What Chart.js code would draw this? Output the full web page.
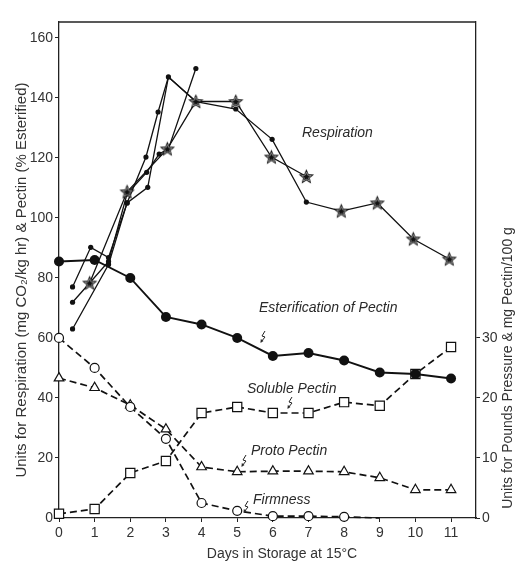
<!DOCTYPE html>
<html>
<head>
<meta charset="utf-8">
<script src="https://cdn.jsdelivr.net/npm/chart.js@4/dist/chart.umd.min.js"></script>
<style>
  html, body { margin: 0; padding: 0; background: #fff; }
  #wrap { width: 519px; height: 567px; }
</style>
</head>
<body>
<div id="wrap"><canvas id="grafico" width="519" height="567"></canvas></div>
<script>
// dias de armazenamento (eixo x)
const dias = [0, 1, 2, 3, 4, 5, 6, 7, 8, 9, 10, 11];
const diasTicks = [0, 1, 2, 3, 4, 5, 6, 7, 8, 9, 10, 11];
const ticksEsquerda = [0, 20, 40, 60, 80, 100, 120, 140, 160];
const ticksDireita = [0, 10, 20, 30];

// eixo esquerdo: esterificacao (% esterificado)
const esterificacao = [85.5, 86, 80, 67, 64.5, 60, 54, 55, 52.5, 48.5, 48, 46.5];

// eixo direito: firmeza, proto pectina e pectina soluvel
const firmeza = [30, 25, 18.5, 13.2, 2.5, 1.2, 0.3, 0.3, 0.2, 0, null, null];
const protoPectina = [23.3, 21.7, 18.8, 14.8, 8.5, 7.7, 7.8, 7.8, 7.7, 6.7, 4.7, 4.7];
const pectinaSoluvel = [0.7, 1.5, 7.5, 9.5, 17.5, 18.5, 17.5, 17.5, 19.3, 18.7, 24, 28.5];

// respiracao - curva com estrelas (inicio)
const respEstrelaDias = [0.86, 1.91, 3.04, 3.84, 4.96, 5.96, 6.94];
const respEstrelaValores = [78.3, 108.7, 123, 138.8, 138.8, 120.3, 113.8];

// respiracao - curva final (pontos e depois estrelas)
const respFinalDias = [3.84, 4.96, 5.98, 6.94, 7.92, 8.93, 9.94, 10.95];
const respFinalValores = [138.8, 136.3, 126.2, 105.3, 102.3, 105, 93, 86.3];

// respiracao - repeticoes com pontos pequenos
const resp1Dias = [0.38, 0.89, 1.39, 1.91, 2.44, 2.78, 3.07, 3.84];
const resp1Valores = [77, 90.2, 86.8, 105, 120.3, 135.3, 147, 138.8];
const resp2Dias = [0.38, 0.86, 1.39, 1.91, 2.46, 2.81, 3.07, 3.84];
const resp2Valores = [71.9, 78.3, 85.5, 108, 115.2, 121.3, 123, 149.8];
const resp3Dias = [0.38, 1.39, 1.91, 2.49, 3.07, 3.84];
const resp3Valores = [63, 84.5, 105, 110.2, 147, 138.8];

//-----------------------------------------------------------------------------------------------
// monta pares {x, y}
function pares(xs, ys) {
    return xs.map((x, i) => ({ x: x, y: ys[i] }));
}

// estrela preenchida usada como marcador
const estrela = document.createElement('canvas');
estrela.width = 17;
estrela.height = 17;
(function () {
    const c = estrela.getContext('2d');
    function caminho(rOut, rIn) {
        c.beginPath();
        for (let i = 0; i < 10; i++) {
            const r = i % 2 === 0 ? rOut : rIn;
            const a = -Math.PI / 2 + i * Math.PI / 5;
            const px = 8.5 + r * Math.cos(a);
            const py = 9 + r * Math.sin(a);
            if (i === 0) c.moveTo(px, py); else c.lineTo(px, py);
        }
        c.closePath();
    }
    caminho(8, 3.6);
    c.fillStyle = '#111';
    c.fill();
    caminho(5, 2.3);
    c.strokeStyle = '#aaa';
    c.lineWidth = 0.8;
    c.stroke();
})();

const fonte = '"Liberation Sans", Arial, sans-serif';
const fonteEstreita = '"Liberation Sans Narrow", "Liberation Sans", Arial, sans-serif';
const preto = '#111';

function linhaPontos(xs, ys, esconder) {
    return {
        data: pares(xs, ys),
        borderColor: preto,
        borderWidth: 1.3,
        pointStyle: 'circle',
        pointRadius: ctx => (esconder.includes(ctx.dataIndex) ? 0 : 2.6),
        pointBackgroundColor: preto,
        pointBorderWidth: 0,
        yAxisID: 'y',
        order: 3
    };
}

// rotulos e setinhas dentro do grafico
const rotulos = {
    id: 'rotulos',
    afterDatasetsDraw(chart) {
        const ctx = chart.ctx;
        const a = chart.chartArea;
        ctx.save();
        // moldura de cima
        ctx.strokeStyle = '#222';
        ctx.lineWidth = 1.3;
        ctx.beginPath();
        ctx.moveTo(a.left, a.top);
        ctx.lineTo(a.right, a.top);
        ctx.stroke();

        ctx.fillStyle = '#2a2a2a';
        ctx.font = 'italic 14px ' + fonte;
        ctx.textBaseline = 'middle';
        ctx.fillText('Respiration', 302, 133);
        ctx.fillText('Esterification of Pectin', 259, 308);
        ctx.fillText('Soluble Pectin', 247, 389);
        ctx.fillText('Proto Pectin', 251, 451);
        ctx.fillText('Firmness', 253, 500);

        function seta(x, y) {
            ctx.beginPath();
            ctx.moveTo(x + 2, y - 6);
            ctx.lineTo(x - 1, y - 1);
            ctx.lineTo(x + 2, y);
            ctx.lineTo(x - 2, y + 5);
            ctx.stroke();
            ctx.beginPath();
            ctx.moveTo(x - 2.5, y + 6);
            ctx.lineTo(x - 2.2, y + 2);
            ctx.lineTo(x + 0.5, y + 4);
            ctx.closePath();
            ctx.fill();
        }
        ctx.strokeStyle = '#222';
        ctx.lineWidth = 1;
        seta(263, 337);
        seta(290, 403);
        seta(244, 461);
        seta(246, 507);

        // titulos dos eixos
        ctx.fillStyle = '#333';
        ctx.textAlign = 'center';
        ctx.font = '14px ' + fonte;
        ctx.fillText('Days in Storage at 15°C', 282, 554);
        ctx.save();
        ctx.font = '15px ' + fonte;
        ctx.translate(22, 280);
        ctx.rotate(-Math.PI / 2);
        ctx.fillText('Units for Respiration (mg CO\u2082/kg hr) & Pectin (% Esterified)', 0, 0);
        ctx.restore();
        ctx.save();
        ctx.translate(508, 368);
        ctx.rotate(-Math.PI / 2);
        ctx.fillText('Units for Pounds Pressure & mg Pectin/100 g', 0, 0);
        ctx.restore();
        ctx.restore();
    }
};

const eixoComum = {
    grid: { drawOnChartArea: false, tickLength: 4, color: '#222', tickWidth: 1 },
    border: { display: true, color: '#222', width: 1.3 },
    ticks: { color: '#333', font: { family: fonteEstreita, size: 14 }, padding: 2 }
};

const tracejado = [7, 4];

new Chart(document.getElementById('grafico').getContext('2d'), {
    type: 'line',
    data: {
        datasets: [
            {
                data: pares(dias, esterificacao),
                borderColor: preto,
                borderWidth: 1.9,
                pointStyle: 'circle',
                pointRadius: 5,
                pointBackgroundColor: preto,
                pointBorderWidth: 0,
                yAxisID: 'y',
                order: 1
            },
            {
                data: pares(dias, firmeza),
                borderColor: preto,
                borderWidth: 1.7,
                borderDash: tracejado,
                pointStyle: 'circle',
                pointRadius: ctx => (ctx.dataIndex === 9 ? 0 : 4.5),
                pointBackgroundColor: '#fff',
                pointBorderColor: preto,
                pointBorderWidth: 1.2,
                yAxisID: 'y2',
                order: 2
            },
            {
                data: pares(dias, protoPectina),
                borderColor: preto,
                borderWidth: 1.7,
                borderDash: tracejado,
                pointStyle: 'triangle',
                pointRadius: 5.5,
                pointBackgroundColor: '#fff',
                pointBorderColor: preto,
                pointBorderWidth: 1.2,
                yAxisID: 'y2',
                order: 2
            },
            {
                data: pares(dias, pectinaSoluvel),
                borderColor: preto,
                borderWidth: 1.7,
                borderDash: tracejado,
                pointStyle: 'rect',
                pointRadius: 6.5,
                pointBackgroundColor: '#fff',
                pointBorderColor: preto,
                pointBorderWidth: 1.2,
                yAxisID: 'y2',
                order: 2
            },
            linhaPontos(resp1Dias, resp1Valores, [7]),
            linhaPontos(resp2Dias, resp2Valores, [1, 6]),
            linhaPontos(resp3Dias, resp3Valores, [4, 5]),
            {
                data: pares(respFinalDias, respFinalValores),
                borderColor: preto,
                borderWidth: 1.3,
                pointStyle: ctx => (ctx.dataIndex >= 4 ? estrela : 'circle'),
                pointRadius: ctx => (ctx.dataIndex === 0 ? 0 : 2.6),
                pointBackgroundColor: preto,
                pointBorderWidth: 0,
                yAxisID: 'y',
                order: 0
            },
            {
                data: pares(respEstrelaDias, respEstrelaValores),
                borderColor: preto,
                borderWidth: 1.3,
                pointStyle: estrela,
                pointRadius: 8,
                yAxisID: 'y',
                order: 0
            }
        ]
    },
    options: {
        responsive: false,
        animation: false,
        clip: false,
        layout: { padding: { top: 22, left: 0, right: 0, bottom: 0 } },
        plugins: { legend: { display: false }, tooltip: { enabled: false } },
        scales: {
            x: {
                type: 'linear',
                min: 0,
                max: 11.7,
                afterBuildTicks: s => { s.ticks = diasTicks.map(v => ({ value: v })); },
                afterFit: s => { s.height = 49; },
                ...eixoComum,
                ticks: { ...eixoComum.ticks, padding: 3 }
            },
            y: {
                position: 'left',
                min: 0,
                max: 165.3,
                afterBuildTicks: s => { s.ticks = ticksEsquerda.map(v => ({ value: v })); },
                afterFit: s => { s.width = 59; },
                ...eixoComum
            },
            y2: {
                position: 'right',
                min: 0,
                max: 82.65,
                afterBuildTicks: s => { s.ticks = ticksDireita.map(v => ({ value: v })); },
                afterFit: s => { s.width = 43; },
                ...eixoComum
            }
        }
    },
    plugins: [rotulos]
});
</script>
</body>
</html>
